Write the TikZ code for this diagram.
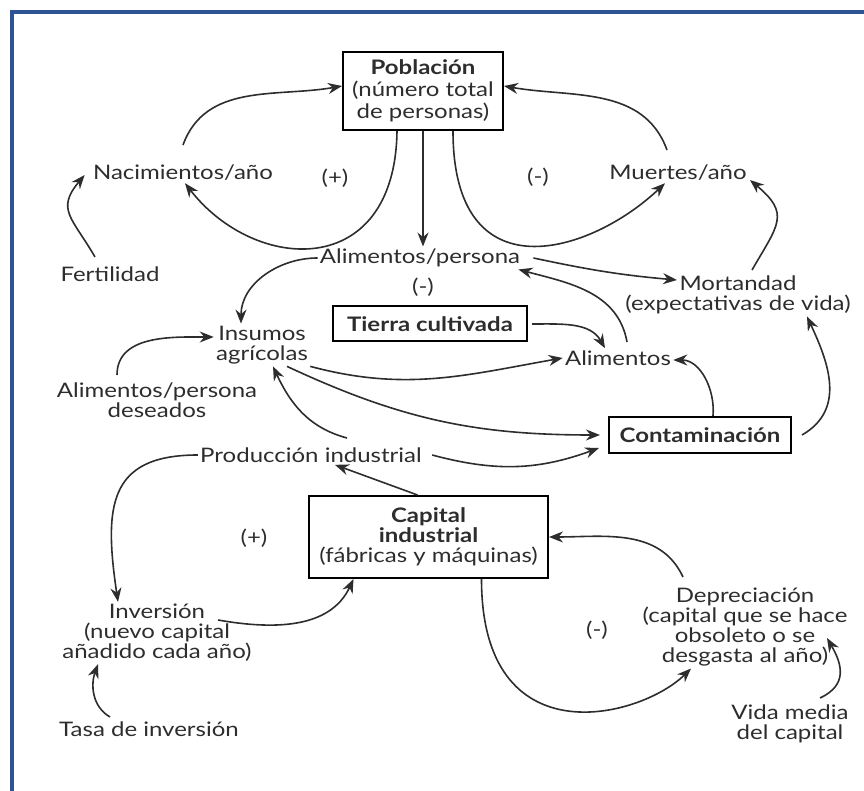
\documentclass[tikz,border=0pt]{standalone}
\usepackage{fontspec}
\setmainfont{Lato}[FakeStretch=1.2]
\usepackage{tikz}
\usetikzlibrary{arrows.meta, calc, positioning}

\definecolor{marco}{RGB}{47,84,150}
\definecolor{tinta}{RGB}{45,45,45}

\begin{document}
\begin{tikzpicture}[x=0.5pt, y=-0.5pt]
	\tikzset{
		etiqueta/.style={align=center, inner sep=1pt, text=tinta, font=\fontsize{10}{10}\selectfont},
		nivel/.style={draw=black, line width=1pt, align=center, inner sep=2pt, text=tinta, font=\fontsize{10}{10}\selectfont},
		flujo/.style={draw=tinta, line width=0.8pt, -{Stealth[length=7pt, width=5.5pt]}}
	}
	\useasboundingbox (0,0) rectangle (864,791);
	\draw[marco, line width=1.6pt] (12,791) -- (12,12) -- (864,12);
	
	% niveles (cajas)
	\node[nivel, minimum width=80pt, minimum height=39pt, font=\fontsize{10}{11}\selectfont] (pob) at (423,91) {\textbf{Población}\\(número total\\de personas)};
	\node[nivel, minimum width=97pt, minimum height=17.5pt] (tie) at (430,324) {\textbf{Tierra cultivada}};
	\node[nivel, minimum width=91pt, minimum height=18pt] (con) at (700,435) {\textbf{Contaminación}};
	\node[nivel, minimum width=119.5pt, minimum height=41pt] (cap) at (428.5,537) {\textbf{Capital}\\\textbf{industrial}\\(fábricas y máquinas)};
	
	% variables
	\node[etiqueta] (nac) at (183,173) {Nacimientos/año};
	\node[etiqueta] (mue) at (678,173) {Muertes/año};
	\node[etiqueta] (fer) at (110,274) {Fertilidad};
	\node[etiqueta] (app) at (420,258) {Alimentos/persona};
	\node[etiqueta] (mor) at (738,295) {Mortandad\\(expectativas de vida)};
	\node[etiqueta] (ins) at (262,345) {Insumos\\agrícolas};
	\node[etiqueta] (apd) at (157,400) {Alimentos/persona\\deseados};
	\node[etiqueta] (ali) at (618,358) {Alimentos};
	\node[etiqueta] (pro) at (311,455) {Producción industrial};
	\node[etiqueta] (inv) at (157,633) {Inversión\\(nuevo capital\\añadido cada año)};
	\node[etiqueta] (tas) at (149,729) {Tasa de inversión};
	\node[etiqueta] (dep) at (745,627) {Depreciación\\(capital que se hace\\obsoleto o se\\desgasta al año)};
	\node[etiqueta] (vid) at (790,724) {Vida media\\del capital};
	
	% signos de los lazos
	\foreach \sx/\sy/\sg/\nm in {335/178/+/s1, 538/177/-/s2, 423/287/-/s3, 254/538/+/s4, 597/630/-/s5}
		\node[etiqueta] (\nm) at (\sx,\sy) {(\sg)};
	
	% lazos de la poblacion
	\draw[flujo] ([yshift=14pt]nac.center) to[out=70, in=190] ([yshift=2.5pt]pob.west);
	\draw[flujo] ([xshift=-13pt]pob.south) .. controls +(-2,150) and +(70,90) .. ([xshift=1pt]nac.south);
	\draw[flujo] (pob.south) -- (pob.south |- app.north);
	\draw[flujo] ([xshift=15pt]pob.south) .. controls +(0,165) and +(-75,71) .. ([xshift=-6.5pt]mue.south);
	\draw[flujo] ([shift={(-11,-23)}]mue.center) to[out=110, in=-10] ([yshift=2.5pt]pob.east);
	\draw[flujo] ([shift={(-15,-17)}]fer.center) to[out=120, in=-130, looseness=1.4] ([xshift=-3pt, yshift=-1pt]nac.west);
	
	% alimentos
	\draw[flujo] (app.west) to[out=180, in=90] ([xshift=-10.5pt]ins.north);
	\draw[flujo] ([xshift=5.5pt]app.east) to[out=-12, in=175] ([shift={(-61,-15)}]mor.center);
	\draw[flujo] ([shift={(14,-25)}]mor.center) to[out=60, in=-40, looseness=1.5] ([shift={(72,7)}]mue.center);
	\draw[flujo] ([shift={(9,-16)}]ali.center) to[out=100, in=-15] ([xshift=-2pt]app.south east);
	\draw[flujo] ([xshift=2pt]tie.east) to[out=0, in=120] ([xshift=-6.5pt]ali.north);
	\draw[flujo] (ins.south east) to[out=-15, in=190] (ali.west);
	\draw[flujo] ([xshift=12.5pt]ins.south) to[out=-25, in=180] ([xshift=-4pt]con.west);
	\draw[flujo] ([shift={(-40,-25)}]apd.center) to[out=90, in=180] ([yshift=4pt]ins.west);
	
	% contaminacion
	\draw[flujo] ([xshift=6.5pt]con.north) to[out=85, in=0] ([yshift=-1pt]ali.east);
	\draw[flujo] ([xshift=5pt]con.east) to[out=30, in=-65, looseness=1.1] ([xshift=34.5pt]mor.south);
	
	% capital industrial
	\draw[flujo] ([shift={(36,-17)}]pro.center) to[out=165, in=-65] ([xshift=5.5pt]ins.south);
	\draw[flujo] ([xshift=4pt]pro.east) to[out=-15, in=200] ([shift={(-9,-6)}]con.south west);
	\draw[flujo] ([xshift=-5.5pt]cap.north) -- ([xshift=12pt]pro.south);
	\draw[flujo] (pro.west) .. controls +(-90,0) and +(-14,-95) .. ([xshift=-19.5pt]inv.north);
	\draw[flujo] ([shift={(61,-13)}]inv.center) to[out=-10, in=-115] ([xshift=-37.5pt]cap.south);
	\draw[flujo] ([shift={(-39,-12)}]tas.center) to[out=150, in=-110] ([xshift=-29.5pt]inv.south);
	\draw[flujo] ([xshift=26.5pt]cap.south) .. controls +(0,180) and +(-51,50) .. ([xshift=-27pt]dep.south);
	\draw[flujo] ([shift={(-62,-50)}]dep.center) to[out=115, in=0] (cap.east);
	\draw[flujo] ([shift={(30,-26)}]vid.center) to[out=25, in=-60, looseness=1.3] ([shift={(82,11)}]dep.center);
\end{tikzpicture}
\end{document}
